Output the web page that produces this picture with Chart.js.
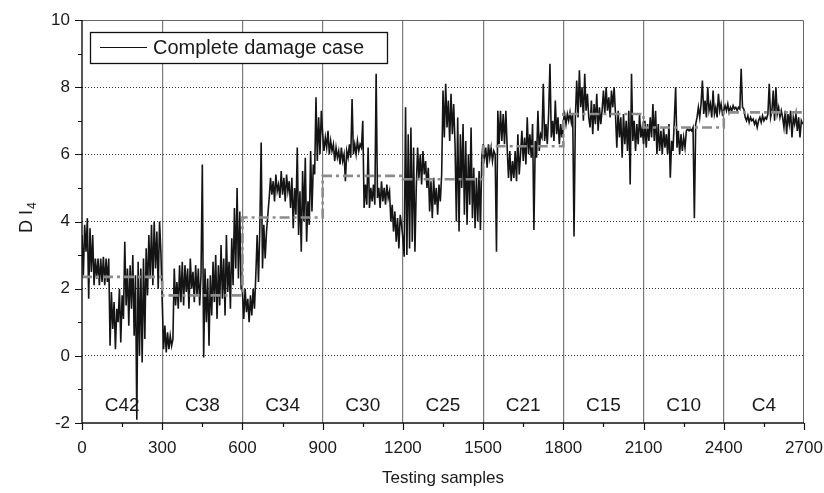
<!DOCTYPE html>
<html>
<head>
<meta charset="utf-8">
<title>DI4 by testing sample</title>
<script src="https://cdn.jsdelivr.net/npm/chart.js@4.4.1/dist/chart.umd.min.js"></script>
<style>
  body { margin: 0; background: #fff; }
  #wrap { width: 824px; height: 493px; }
</style>
</head>
<body>
<div id="wrap"><canvas id="di-chart" width="824" height="493"></canvas></div>
<script>
// Damage cases, one block of 300 samples each
const caseNames = ['C42', 'C38', 'C34', 'C30', 'C25', 'C21', 'C15', 'C10', 'C4'];
const samplesPerCase = 300;
const sampleStep = 5;

// DI4 readings, one value every 5 samples (60 per case)
const c42 = [3.6, 2.4, 3.9, 3.1, 4.1, 1.7, 3.8, 2.5, 3.6, 2.1, 2.9, 2.3, 2.9, 2.1, 2.9, 2.2, 2.95, 2.1, 2.9, 2.2,
  2.9, 0.3, 1.9, 0.8, 1.6, 0.2, 1.4, 1.0, 2.0, 0.4, 1.8, 1.1, 3.4, 1.5, 2.6, 0.9, 2.7, 1.4, 3.0, 0.6,
  2.4, -1.9, 2.8, 0.0, 2.6, -0.2, 2.9, 0.5, 3.2, 1.8, 3.6, 2.3, 3.9, 2.1, 4.0, 2.6, 3.7, 2.0, 4.0, 3.1];
const c38 = [1.6, 0.2, 0.9, 0.1, 0.7, 0.2, 0.6, 0.3, 0.5, 2.6, 1.5, 2.2, 1.4, 2.7, 1.6, 2.8, 1.5, 2.7, 1.9, 2.6,
  1.4, 2.9, 2.0, 2.5, 1.6, 2.7, 1.8, 2.6, 1.5, 2.4, 5.7, -0.05, 2.6, 1.0, 2.3, 0.3, 2.4, 1.2, 2.8, 1.6,
  3.0, 1.1, 2.7, 1.5, 3.3, 1.7, 2.9, 1.2, 3.6, 1.9, 2.8, 1.4, 3.5, 2.1, 4.4, 2.6, 5.0, 2.3, 4.3, 2.0];
const c34 = [1.9, 1.1, 2.0, 1.3, 1.7, 1.0, 1.8, 1.2, 2.0, 1.4, 2.4, 3.6, 2.2, 3.8, 6.35, 2.6, 3.9, 2.9, 3.7, 4.2,
  4.7, 5.3, 4.8, 5.2, 4.6, 5.4, 4.9, 5.1, 4.7, 5.5, 4.8, 5.3, 4.6, 5.4, 4.9, 5.2, 4.4, 5.3, 3.8, 5.0,
  4.2, 6.2, 3.6, 4.9, 3.1, 5.5, 4.0, 5.9, 3.4, 4.6, 3.9, 6.1, 4.3, 5.7, 5.4, 7.7, 5.8, 7.1, 6.0, 7.3];
const c30 = [6.6, 6.1, 6.5, 6.2, 6.7, 6.0, 6.4, 6.1, 6.3, 5.8, 6.2, 5.9, 6.1, 5.7, 6.2, 5.8, 6.0, 5.2, 6.1, 5.9,
  6.3, 5.9, 7.65, 6.0, 6.3, 6.0, 6.4, 6.1, 6.3, 6.2, 7.0, 4.4, 5.1, 4.5, 6.2, 4.4, 5.0, 4.6, 5.1, 4.5,
  8.4, 4.7, 5.0, 4.4, 5.2, 4.6, 5.0, 4.5, 5.1, 4.7, 4.9, 4.0, 4.5, 3.7, 4.3, 3.4, 4.1, 3.2, 4.2, 3.9];
const c25 = [3.5, 2.95, 7.4, 3.0, 6.6, 3.2, 6.8, 3.4, 6.2, 3.1, 5.0, 6.2, 5.3, 6.0, 5.1, 6.1, 5.4, 5.8, 5.0, 5.6,
  4.3, 5.2, 4.1, 5.3, 4.5, 5.0, 4.2, 5.1, 4.6, 5.4, 7.9, 6.5, 8.1, 6.8, 7.6, 6.4, 7.8, 6.6, 7.5, 6.3,
  4.0, 7.1, 3.7, 6.6, 5.0, 6.9, 4.2, 6.4, 3.9, 6.0, 4.5, 6.8, 4.1, 5.6, 3.8, 5.3, 4.0, 5.5, 3.75, 5.9];
const c21 = [6.3, 5.9, 6.2, 5.6, 6.3, 5.9, 6.2, 5.8, 6.1, 6.0, 3.1, 7.3, 6.3, 7.3, 6.4, 7.2, 6.3, 7.3, 6.2, 5.3,
  6.1, 5.2, 5.8, 5.3, 6.1, 5.2, 6.6, 5.4, 6.0, 6.7, 5.8, 6.5, 5.7, 7.1, 6.0, 6.6, 5.9, 6.9, 3.75, 6.4,
  5.9, 7.3, 6.1, 6.6, 6.5, 8.1, 6.4, 6.9, 6.3, 7.2, 8.7, 6.5, 7.0, 6.4, 7.6, 6.6, 7.1, 6.3, 6.9, 6.5];
const c15 = [7.0, 7.2, 6.9, 7.2, 7.0, 7.25, 6.95, 7.2, 3.55, 7.1, 8.2, 7.1, 8.5, 7.4, 8.0, 7.0, 8.4, 7.3, 7.8, 7.1,
  6.8, 7.6, 6.6, 7.5, 6.9, 7.8, 6.7, 7.4, 6.9, 7.3, 7.9, 7.2, 8.0, 7.3, 7.7, 7.1, 7.9, 7.4, 8.0, 7.2,
  6.2, 7.3, 6.5, 7.1, 5.9, 7.2, 6.3, 7.0, 6.1, 7.3, 5.1, 8.4, 6.4, 7.0, 6.1, 6.9, 6.3, 7.2, 6.5, 6.8];
const c10 = [6.3, 7.0, 6.2, 6.9, 6.4, 7.1, 6.5, 7.5, 6.4, 7.3, 6.0, 6.9, 6.1, 6.7, 6.0, 6.8, 6.2, 6.6, 6.0, 6.9,
  5.3, 6.4, 6.1, 7.0, 8.0, 6.2, 6.7, 6.0, 6.6, 6.1, 6.5, 6.2, 6.7, 6.75, 6.7, 6.75, 6.7, 6.8, 4.1, 6.9,
  7.1, 7.4, 7.1, 7.5, 8.2, 7.2, 7.6, 7.1, 8.0, 7.3, 7.5, 7.1, 7.9, 7.2, 7.4, 7.1, 7.8, 7.3, 7.5, 7.2];
const c4 = [7.3, 7.45, 7.3, 7.5, 7.25, 7.4, 7.3, 7.45, 7.35, 7.4, 7.3, 7.4, 7.35, 8.55, 7.4, 7.35, 7.1, 7.0, 7.15, 6.95,
  7.1, 7.0, 7.05, 6.9, 7.0, 6.8, 7.0, 7.1, 6.95, 7.15, 7.0, 7.1, 7.05, 7.2, 8.1, 7.1, 7.3, 7.9, 7.0, 8.0,
  7.2, 7.4, 7.1, 7.3, 7.1, 6.8, 7.3, 6.6, 7.2, 6.9, 7.3, 6.5, 7.1, 6.9, 7.2, 6.7, 7.1, 6.5, 7.0, 6.9];

// mean DI4 of each case (dash-dot step line)
const caseMeans = [2.35, 1.8, 4.12, 5.36, 5.26, 6.24, 7.2, 6.8, 7.25];

const xTickValues = [0, 300, 600, 900, 1200, 1500, 1800, 2100, 2400, 2700];
const yTickValues = [-2, 0, 2, 4, 6, 8, 10];

const FONT = "'Liberation Sans', Arial, Helvetica, sans-serif";

const signal = [c42, c38, c34, c30, c25, c21, c15, c10, c4]
  .flat()
  .map((v, i) => ({ x: i * sampleStep, y: v }));

const meanSteps = [];
caseMeans.forEach((m, i) => {
  meanSteps.push({ x: i * samplesPerCase, y: m });
  meanSteps.push({ x: (i + 1) * samplesPerCase, y: m });
});

// frame, tick marks, case names, legend and axis titles
const decorations = {
  id: 'decorations',
  afterDraw(chart) {
    const { ctx, chartArea: a, scales: { x, y } } = chart;
    ctx.save();

    // top and right frame in grey
    ctx.strokeStyle = '#666';
    ctx.lineWidth = 1;
    ctx.beginPath();
    ctx.moveTo(a.left, a.top + 0.5);
    ctx.lineTo(a.right - 0.5, a.top + 0.5);
    ctx.lineTo(a.right - 0.5, a.bottom);
    ctx.stroke();

    // left and bottom axes in black
    ctx.strokeStyle = '#111';
    ctx.lineWidth = 1.4;
    ctx.beginPath();
    ctx.moveTo(a.left, a.top);
    ctx.lineTo(a.left, a.bottom);
    ctx.lineTo(a.right, a.bottom);
    ctx.stroke();

    // tick marks, major and minor
    ctx.lineWidth = 1.2;
    ctx.beginPath();
    for (let v = 0; v <= 2700; v += 150) {
      const px = Math.round(x.getPixelForValue(v)) + 0.5;
      const len = v % 300 === 0 ? 7 : 4;
      ctx.moveTo(px, a.bottom);
      ctx.lineTo(px, a.bottom + len);
    }
    for (let v = -2; v <= 10; v += 1) {
      const py = Math.round(y.getPixelForValue(v)) + 0.5;
      const len = v % 2 === 0 ? 7 : 4;
      ctx.moveTo(a.left, py);
      ctx.lineTo(a.left - len, py);
    }
    ctx.stroke();

    // case names along the bottom of each block
    ctx.fillStyle = '#1a1a1a';
    ctx.font = '19px ' + FONT;
    ctx.textAlign = 'center';
    ctx.textBaseline = 'middle';
    caseNames.forEach((name, i) => {
      const cx = x.getPixelForValue(i * samplesPerCase + samplesPerCase / 2);
      ctx.fillText(name, cx, y.getPixelForValue(-1.48));
    });

    // legend box
    const lx = a.left + 8, ly = a.top + 12, lw = 297, lh = 31;
    ctx.fillStyle = '#fff';
    ctx.fillRect(lx, ly, lw, lh);
    ctx.strokeStyle = '#111';
    ctx.lineWidth = 1.3;
    ctx.strokeRect(lx + 0.5, ly + 0.5, lw, lh);
    ctx.lineWidth = 1;
    ctx.beginPath();
    ctx.moveTo(lx + 10, ly + 15.5);
    ctx.lineTo(lx + 57, ly + 15.5);
    ctx.stroke();
    ctx.fillStyle = '#1a1a1a';
    ctx.font = '20px ' + FONT;
    ctx.textAlign = 'left';
    ctx.fillText('Complete damage case', lx + 63, ly + 16.5);

    // x axis title
    ctx.font = '17px ' + FONT;
    ctx.textAlign = 'center';
    ctx.fillText('Testing samples', (a.left + a.right) / 2, 478);

    // y axis title: D I with subscript 4
    ctx.translate(32, 233);
    ctx.rotate(-Math.PI / 2);
    ctx.textAlign = 'left';
    ctx.textBaseline = 'alphabetic';
    ctx.font = '18px ' + FONT;
    ctx.fillText('D I', 0, 0);
    const w = ctx.measureText('D I').width;
    ctx.font = '12px ' + FONT;
    ctx.fillText('4', w + 1, 4);

    ctx.restore();
  }
};

const ctx = document.getElementById('di-chart').getContext('2d');
const chart = new Chart(ctx, {
  type: 'line',
  data: {
    datasets: [
      {
        label: 'Case mean',
        data: meanSteps,
        borderColor: '#8c8c8c',
        borderWidth: 2.6,
        borderDash: [10, 4, 3, 4],
        pointRadius: 0,
        order: 0
      },
      {
        label: 'Complete damage case',
        data: signal,
        borderColor: '#141414',
        borderWidth: 1.6,
        borderJoinStyle: 'miter',
        pointRadius: 0,
        tension: 0,
        order: 1
      }
    ]
  },
  options: {
    responsive: false,
    animation: false,
    layout: { padding: { top: 20, right: 20, left: 0, bottom: 0 } },
    plugins: {
      legend: { display: false },
      tooltip: { enabled: false }
    },
    scales: {
      x: {
        type: 'linear',
        min: 0,
        max: 2700,
        afterBuildTicks: (s) => { s.ticks = xTickValues.map(v => ({ value: v })); },
        afterFit: (s) => { s.height = 70; s.paddingLeft = 0; s.paddingRight = 0; },
        ticks: {
          autoSkip: false,
          maxRotation: 0,
          padding: 15,
          color: '#1a1a1a',
          font: { family: FONT, size: 17 },
          callback: (v) => String(v)
        },
        grid: {
          drawTicks: false,
          lineWidth: 1.2,
          color: (c) => (c.tick && (c.tick.value === 0 || c.tick.value === 2700)) ? 'rgba(0,0,0,0)' : '#7a7a7a'
        },
        border: { display: false }
      },
      y: {
        min: -2,
        max: 10,
        afterBuildTicks: (s) => { s.ticks = yTickValues.map(v => ({ value: v })); },
        afterFit: (s) => { s.width = 82; s.paddingTop = 0; s.paddingBottom = 0; },
        ticks: {
          padding: 12,
          color: '#1a1a1a',
          font: { family: FONT, size: 17 },
          callback: (v) => String(v)
        },
        grid: {
          drawTicks: false,
          lineWidth: 1,
          color: (c) => (c.tick && (c.tick.value === -2 || c.tick.value === 10)) ? 'rgba(0,0,0,0)' : '#333'
        },
        border: { display: false, dash: [1, 2] }
      }
    }
  },
  plugins: [decorations]
});
</script>
</body>
</html>
